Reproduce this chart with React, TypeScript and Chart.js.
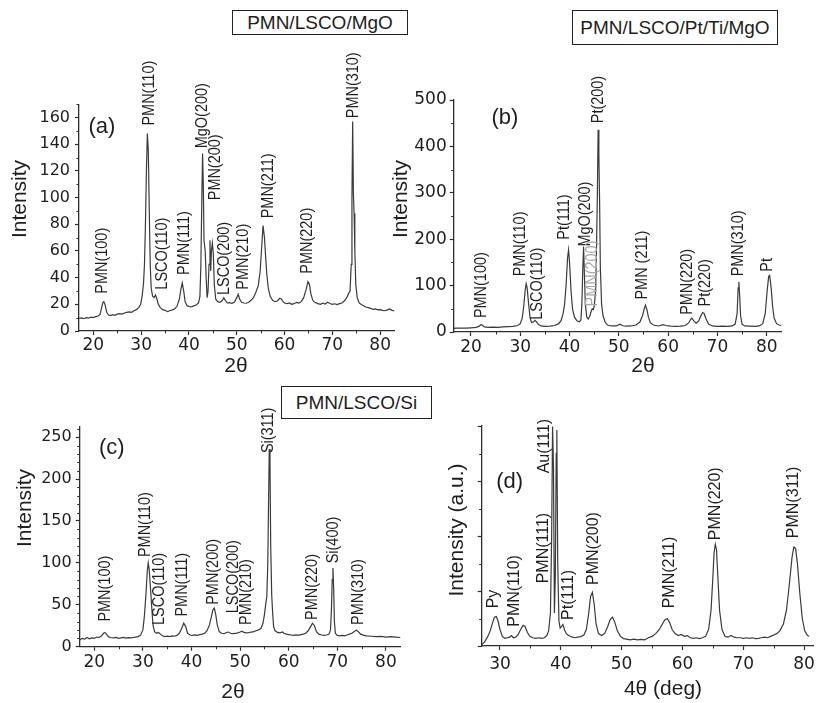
import React, { useEffect, useRef } from 'react';
import { Chart, registerables } from 'chart.js';

Chart.register(...registerables);

const W = 819;
const H = 703;

// ---------- Panel (a) PMN/LSCO/MgO ----------
const aPattern: [number, number][] = [
  [17.0, 9.5], [17.5, 9.8], [18.0, 9.2], [18.5, 10.0], [19.0, 9.6], [19.5, 10.4], [20.0, 10.1], [20.5, 10.8],
  [21.0, 11.2], [21.4, 12.5], [21.7, 17], [22.0, 21.5], [22.2, 22], [22.5, 19], [22.8, 14], [23.2, 12],
  [23.6, 11.5], [24.0, 12.2], [24.5, 11.8], [25.0, 12.6], [25.5, 13.0], [26.0, 12.7], [26.5, 13.5], [27.0, 13.9],
  [27.5, 14.3], [28.0, 14.0], [28.5, 15.2], [29.0, 16.0], [29.5, 17.5], [29.9, 20], [30.2, 26], [30.5, 36],
  [30.7, 50], [30.9, 80], [31.1, 120], [31.3, 148], [31.5, 135], [31.7, 90], [31.9, 50], [32.1, 32],
  [32.4, 26], [32.7, 25], [33.0, 27], [33.3, 24], [33.6, 20], [34.0, 17.5], [34.5, 16], [35.0, 15.5],
  [35.5, 14.5], [36.0, 15.2], [36.5, 15.8], [37.0, 16.5], [37.5, 18.5], [38.0, 24], [38.3, 31], [38.6, 36],
  [38.9, 30], [39.2, 22], [39.6, 19], [40.0, 18.5], [40.5, 18], [41.0, 18.8], [41.5, 19.5], [42.0, 21],
  [42.3, 26], [42.5, 50], [42.7, 100], [42.85, 133], [43.0, 110], [43.15, 68], [43.4, 60], [43.6, 40],
  [43.8, 25], [44.0, 30], [44.2, 50], [44.4, 68], [44.55, 45], [44.7, 60], [44.9, 66], [45.1, 58],
  [45.3, 35], [45.6, 24], [46.0, 22], [46.5, 21.5], [47.0, 23], [47.3, 25], [47.6, 23], [48.0, 21],
  [48.5, 21.2], [49.0, 20.8], [49.5, 21.5], [50.0, 25], [50.3, 27.5], [50.6, 24], [51.0, 21.5], [51.5, 21],
  [52.0, 20.8], [52.5, 21.5], [53.0, 23], [53.5, 25], [54.0, 29], [54.5, 34], [54.9, 45], [55.2, 62],
  [55.5, 79], [55.8, 70], [56.0, 58], [56.3, 42], [56.6, 32], [57.0, 26], [57.5, 23], [58.0, 22],
  [58.5, 22.5], [59.0, 24.5], [59.3, 24], [59.7, 22], [60.0, 21], [60.5, 20.5], [61.0, 21], [61.5, 20],
  [62.0, 20.5], [62.5, 21.5], [63.0, 21], [63.5, 22], [64.0, 25], [64.5, 31], [64.9, 37], [65.2, 35],
  [65.5, 28], [65.9, 23], [66.3, 21.5], [67.0, 20.5], [67.5, 20], [68.0, 20.8], [68.5, 20.2], [69.0, 21.5],
  [69.5, 20.6], [70.0, 20], [70.5, 20.4], [71.0, 19.8], [71.5, 20.5], [72.0, 21], [72.5, 22.5], [73.0, 25],
  [73.4, 28], [73.7, 30], [73.95, 50], [74.1, 100], [74.25, 157], [74.4, 103], [74.55, 88], [74.7, 60],
  [74.9, 35], [75.2, 25], [75.6, 21], [76.0, 20], [76.5, 19], [77.0, 18], [77.5, 17.5], [78.0, 17],
  [78.5, 16.2], [79.0, 16.5], [79.5, 15.8], [80.0, 16], [80.5, 15.5], [81.0, 15.2], [81.5, 15.8], [82.0, 16.5],
  [82.5, 15.5], [83.0, 15],
];
const aPeaks: [string, number, number][] = [
  ['PMN(100)', 21.8, 28], ['PMN(110)', 31.7, 154], ['LSCO(110)', 34.5, 31], ['PMN(111)', 39.0, 42],
  ['MgO(200)', 42.7, 137], ['PMN(200)', 45.5, 98], ['LSCO(200)', 47.4, 27], ['PMN(210)', 51.4, 31],
  ['PMN(211)', 56.5, 84.5], ['PMN(220)', 64.8, 43], ['PMN(310)', 74.3, 159.5],
];
const aXTicks = [20, 30, 40, 50, 60, 70, 80];
const aXMinor = [25, 35, 45, 55, 65, 75];
const aYTicks = [0, 20, 40, 60, 80, 100, 120, 140, 160];
const aYMinor = [10, 30, 50, 70, 90, 110, 130, 150, 170];
const aTag: [string, number, number] = ['(a)', 21.8, 153];

// ---------- Panel (b) PMN/LSCO/Pt/Ti/MgO ----------
const bPattern: [number, number][] = [
  [16.5, 8], [17.0, 8.5], [18, 8.5], [19, 8.2], [20, 9], [21, 10], [21.6, 12], [22.0, 16], [22.3, 15],
  [22.7, 11], [23.5, 10], [24.5, 10.5], [25.5, 10], [26.5, 11], [27.5, 11.5], [28.5, 12], [29.5, 14],
  [30.0, 18], [30.4, 30], [30.7, 55], [31.0, 90], [31.2, 104], [31.4, 95], [31.7, 60], [32.0, 30],
  [32.3, 20], [32.7, 22], [33.0, 25], [33.3, 22], [33.7, 16], [34.2, 13], [35, 12], [36, 12.5], [37, 14],
  [37.8, 18], [38.3, 25], [38.7, 40], [39.0, 60], [39.3, 100], [39.6, 160], [39.8, 177], [40.0, 150],
  [40.3, 90], [40.6, 50], [41.0, 32], [41.5, 24], [42.0, 22], [42.3, 26], [42.5, 60], [42.7, 140],
  [42.85, 184], [43.0, 130], [43.2, 60], [43.5, 32], [43.8, 28], [44.1, 34], [44.4, 45], [44.6, 50],
  [44.8, 48], [45.0, 55], [45.3, 90], [45.5, 200], [45.65, 300], [45.8, 436], [45.95, 380], [46.1, 280],
  [46.25, 140], [46.5, 60], [46.8, 35], [47.2, 22], [47.7, 15], [48.5, 13], [49.5, 13], [50.2, 17],
  [50.8, 13.5], [51.5, 12.5], [52.5, 13], [53.5, 15], [54.3, 22], [54.8, 35], [55.2, 52], [55.4, 58],
  [55.7, 48], [56.0, 32], [56.4, 20], [57.0, 15], [58.0, 13], [59.0, 16], [59.5, 14], [60.5, 12.5],
  [61.5, 12], [62.5, 12.5], [63.5, 14], [64.2, 20], [64.6, 28], [64.8, 30], [65.2, 24], [65.7, 19],
  [66.2, 24], [66.6, 34], [67.0, 42], [67.3, 40], [67.7, 28], [68.2, 17], [69, 13], [70, 12], [71, 12.5],
  [72, 12], [73, 13], [73.6, 17], [74.0, 40], [74.2, 95], [74.35, 108], [74.5, 80], [74.7, 35], [75.0, 17],
  [75.5, 13], [76.5, 12.5], [77.5, 12], [78.5, 13], [79.2, 18], [79.7, 40], [80.1, 90], [80.4, 120],
  [80.6, 122], [80.9, 95], [81.2, 55], [81.5, 30], [82.0, 18], [82.5, 15], [83.0, 14],
];
const bPeaks: [string, number, number][] = [
  ['PMN(100)', 22.2, 30], ['PMN(110)', 30.1, 120], ['LSCO(110)', 33.5, 26.5], ['Pt(111)', 38.9, 199],
  ['MgO(200)', 43.1, 184], ['PMN(200)', 44.7, 55], ['Pt(200)', 45.8, 450], ['PMN (211)', 54.8, 70],
  ['PMN(220)', 63.9, 37], ['Pt(220)', 67.5, 55], ['PMN(310)', 74.2, 120], ['Pt', 80.1, 130],
];
const bFadedLabels = ['PMN(200)'];
const bXTicks = [20, 30, 40, 50, 60, 70, 80];
const bXMinor = [25, 35, 45, 55, 65, 75];
const bYTicks = [0, 100, 200, 300, 400, 500];
const bYMinor = [50, 150, 250, 350, 450];
const bTag: [string, number, number] = ['(b)', 26.9, 461];

// ---------- Panel (c) PMN/LSCO/Si ----------
const cPattern: [number, number][] = [
  [17.0, 8], [17.5, 10], [18.0, 9], [18.5, 11], [19.0, 9.5], [19.5, 10.5], [20.0, 10], [20.5, 11.5],
  [21.0, 11], [21.5, 13], [21.9, 16], [22.2, 17], [22.5, 15], [22.9, 12], [23.3, 11], [24, 10.5],
  [24.5, 11], [25, 10], [25.5, 10.5], [26, 11], [26.5, 10.2], [27, 10.8], [27.5, 10.5], [28, 11],
  [28.5, 11.5], [29, 12], [29.5, 13.5], [30.0, 20], [30.3, 36], [30.6, 60], [30.9, 90], [31.1, 100],
  [31.3, 92], [31.5, 75], [31.7, 58], [31.9, 40], [32.1, 25], [32.4, 18], [32.8, 16], [33.2, 17],
  [33.6, 15], [34.0, 13], [34.5, 12], [35, 12.5], [35.5, 12], [36, 12.8], [36.5, 12.5], [37, 13.5],
  [37.5, 16], [38.0, 22], [38.4, 28], [38.8, 24], [39.2, 16], [39.7, 14], [40.2, 13.5], [40.7, 14],
  [41.2, 13.5], [41.7, 14.5], [42.2, 15], [42.7, 16], [43.2, 19], [43.7, 26], [44.1, 36], [44.4, 44],
  [44.7, 46], [45.0, 38], [45.3, 26], [45.7, 18], [46.2, 16], [46.7, 15.5], [47.2, 17], [47.6, 17.5],
  [48.0, 16], [48.5, 15.5], [49.0, 15.8], [49.5, 16.5], [50.0, 17.5], [50.4, 18.5], [50.8, 17],
  [51.2, 16.5], [51.8, 16.8], [52.3, 17.5], [52.8, 18], [53.3, 19], [53.8, 20], [54.3, 22], [54.7, 28],
  [55.0, 38], [55.3, 52], [55.5, 60], [55.7, 100], [55.85, 170], [56.0, 236], [56.15, 218], [56.3, 120],
  [56.5, 62], [56.7, 40], [56.9, 24], [57.2, 19], [57.7, 17], [58.2, 16.5], [58.7, 17.5], [59.0, 16],
  [59.5, 15], [60, 14.5], [60.5, 14], [61, 13.5], [61.5, 14], [62, 13.5], [62.5, 14.5], [63, 15],
  [63.5, 16], [64.0, 19], [64.5, 24], [64.9, 28], [65.3, 25], [65.7, 18], [66.2, 15], [66.8, 14],
  [67.3, 13.5], [67.8, 14], [68.3, 15], [68.6, 20], [68.8, 45], [68.95, 80], [69.1, 94], [69.25, 70],
  [69.4, 30], [69.6, 16], [70.0, 13.5], [70.5, 13], [71, 13.5], [71.5, 13], [72, 14], [72.5, 15],
  [73, 16], [73.5, 18], [73.9, 20], [74.3, 18], [74.8, 15], [75.5, 13.5], [76, 13], [77, 12.5],
  [78, 12], [79, 12.2], [80, 11.5], [81, 12], [82, 11.5], [83, 11],
];
const cPeaks: [string, number, number][] = [
  ['PMN(100)', 22.2, 30], ['PMN(110)', 30.4, 107], ['LSCO(110)', 33.4, 26], ['PMN(111)', 38.2, 36],
  ['PMN(200)', 44.5, 50], ['LSCO(200)', 48.6, 40], ['PMN(210)', 51.2, 26], ['Si(311)', 55.8, 231],
  ['PMN(220)', 64.9, 32], ['Si(400)', 69.2, 99.5], ['PMN(310)', 74.3, 26],
];
const cXTicks = [20, 30, 40, 50, 60, 70, 80];
const cXMinor = [25, 35, 45, 55, 65, 75];
const cYTicks = [0, 50, 100, 150, 200, 250];
const cYMinor = [10, 20, 30, 40, 60, 70, 80, 90, 110, 120, 130, 140, 160, 170, 180, 190, 210, 220, 230, 240, 260];
const cTag: [string, number, number] = ['(c)', 23.6, 236.7];

// ---------- Panel (d) ----------
const dPattern: [number, number][] = [
  [27.0, 0.05], [27.5, 0.15], [28.0, 0.35], [28.4, 0.55], [28.8, 0.85], [29.1, 1.05], [29.4, 1.07],
  [29.7, 0.9], [30.0, 0.6], [30.4, 0.35], [30.8, 0.28], [31.2, 0.3], [31.6, 0.32], [31.9, 0.38],
  [32.2, 0.3], [32.6, 0.32], [33.0, 0.42], [33.4, 0.6], [33.8, 0.75], [34.1, 0.72], [34.5, 0.5],
  [34.9, 0.35], [35.4, 0.3], [35.9, 0.28], [36.4, 0.3], [36.9, 0.28], [37.3, 0.3], [37.7, 0.38],
  [38.0, 0.55], [38.3, 1.2], [38.5, 4.0], [38.65, 7.98], [38.8, 6.5], [38.95, 1.2], [39.1, 2.5],
  [39.25, 7.0], [39.35, 7.85], [39.5, 3.0], [39.7, 0.9], [39.9, 0.65], [40.1, 0.7], [40.35, 0.78],
  [40.6, 0.6], [40.9, 0.45], [41.3, 0.38], [41.8, 0.33], [42.3, 0.3], [42.8, 0.32], [43.3, 0.34],
  [43.8, 0.4], [44.2, 0.6], [44.6, 1.2], [44.9, 1.8], [45.2, 1.95], [45.5, 1.5], [45.8, 0.8],
  [46.2, 0.45], [46.7, 0.38], [47.2, 0.45], [47.7, 0.7], [48.1, 0.95], [48.5, 1.05], [48.9, 0.85],
  [49.3, 0.55], [49.8, 0.35], [50.3, 0.27], [50.8, 0.25], [51.4, 0.22], [52, 0.25], [52.6, 0.22],
  [53.2, 0.24], [53.8, 0.22], [54.4, 0.3], [55, 0.35], [55.6, 0.45], [56.2, 0.6], [56.7, 0.8],
  [57.1, 0.95], [57.5, 1.0], [57.9, 0.85], [58.3, 0.6], [58.8, 0.45], [59.3, 0.38], [59.8, 0.42],
  [60.3, 0.35], [60.8, 0.38], [61.3, 0.3], [61.8, 0.28], [62.3, 0.3], [62.8, 0.27], [63.3, 0.3],
  [63.8, 0.35], [64.3, 0.6], [64.7, 1.3], [65.0, 2.5], [65.2, 3.4], [65.4, 3.7], [65.6, 3.5],
  [65.8, 2.6], [66.1, 1.3], [66.5, 0.6], [67.0, 0.35], [67.5, 0.32], [68.0, 0.38], [68.5, 0.32],
  [69, 0.3], [69.5, 0.3], [70, 0.28], [70.5, 0.3], [71, 0.28], [71.5, 0.3], [72, 0.27], [72.5, 0.28],
  [73, 0.3], [73.5, 0.32], [74, 0.3], [74.5, 0.35], [75, 0.4], [75.5, 0.45], [76, 0.55], [76.6, 0.8],
  [77.1, 1.3], [77.6, 2.3], [78.0, 3.2], [78.3, 3.6], [78.6, 3.55], [78.9, 3.0], [79.3, 1.9],
  [79.7, 1.0], [80.1, 0.55], [80.5, 0.4], [80.8, 0.35],
];
const dPeaks: [string, number, number][] = [
  ['Py', 28.9, 1.37], ['PMN(110)', 32.3, 0.7], ['PMN(111)', 37.1, 2.28], ['Au(111)', 37.3, 6.28],
  ['Pt(111)', 41.3, 0.95], ['PMN(200)', 45.3, 2.22], ['PMN(211)', 57.9, 1.37], ['PMN(220)', 65.4, 3.85],
  ['PMN(311)', 78.3, 3.92],
];
const dXTicks = [30, 40, 50, 60, 70, 80];
const dXMinor = [35, 45, 55, 65, 75];
const dYTicks = [0, 2, 4, 6, 8];
const dYMinor = [1, 3, 5, 7];
const dTag: [string, number, number] = ['(d)', 31.6, 5.97];

// ---------- layout / style ----------
const AXIS = '#2e2e2e';
const LINE = '#3a3a3a';
const TEXT = '#1e1e1e';
const SANS = '"Liberation Sans", Arial, Helvetica, sans-serif';
const TICKFONT = '"DejaVu Sans", "Liberation Sans", sans-serif';
const YW = 60;
const XH = 30;

type Panel = {
  pattern: [number, number][];
  peaks: [string, number, number][];
  faded?: string[];
  xTicks: number[]; xMinor: number[]; yTicks: number[]; yMinor: number[];
  tag: [string, number, number];
  area: { left: number; top: number; right: number; bottom: number };
  xMin: number; xMax: number; yMin: number; yMax: number;
  yLabels: boolean;
  xFont: number; yFont: number; xPad: number; yPad: number;
  labelScale: number;
  yTitle: string; yTitlePos: [number, number];
  xTitle: string; xTitlePos: [number, number];
};

const panels: Panel[] = [
  {
    pattern: aPattern, peaks: aPeaks, xTicks: aXTicks, xMinor: aXMinor, yTicks: aYTicks, yMinor: aYMinor, tag: aTag,
    area: { left: 79, top: 104.2, right: 394.5, bottom: 331 },
    xMin: 17, xMax: 83, yMin: 0, yMax: 170, yLabels: true,
    xFont: 17, yFont: 16, xPad: 0, yPad: 5, labelScale: 0.85,
    yTitle: 'Intensity', yTitlePos: [20, 199], xTitle: '2θ', xTitlePos: [236, 366],
  },
  {
    pattern: bPattern, peaks: bPeaks, faded: bFadedLabels, xTicks: bXTicks, xMinor: bXMinor, yTicks: bYTicks, yMinor: bYMinor, tag: bTag,
    area: { left: 453.7, top: 100, right: 781.5, bottom: 332 },
    xMin: 16.5, xMax: 83, yMin: 0, yMax: 500, yLabels: true,
    xFont: 17, yFont: 17, xPad: 1, yPad: 3, labelScale: 0.85,
    yTitle: 'Intensity', yTitlePos: [401, 199], xTitle: '2θ', xTitlePos: [643, 366],
  },
  {
    pattern: cPattern, peaks: cPeaks, xTicks: cXTicks, xMinor: cXMinor, yTicks: cYTicks, yMinor: cYMinor, tag: cTag,
    area: { left: 79.7, top: 426.3, right: 400.5, bottom: 646.7 },
    xMin: 17, xMax: 83, yMin: 0, yMax: 263, yLabels: true,
    xFont: 17, yFont: 16, xPad: 2, yPad: 4, labelScale: 0.85,
    yTitle: 'Intensity', yTitlePos: [25, 508], xTitle: '2θ', xTitlePos: [233, 692],
  },
  {
    pattern: dPattern, peaks: dPeaks, xTicks: dXTicks, xMinor: dXMinor, yTicks: dYTicks, yMinor: dYMinor, tag: dTag,
    area: { left: 481.7, top: 426, right: 816.5, bottom: 646 },
    xMin: 27, xMax: 81.5, yMin: 0, yMax: 8, yLabels: false,
    xFont: 17, yFont: 16, xPad: 4, yPad: 4, labelScale: 0.94,
    yTitle: 'Intensity (a.u.)', yTitlePos: [457, 530], xTitle: '4θ (deg)', xTitlePos: [663, 689],
  },
];

const boxes = [
  { text: 'PMN/LSCO/MgO', left: 232, top: 10, width: 176, height: 25 },
  { text: 'PMN/LSCO/Pt/Ti/MgO', left: 572, top: 10, width: 206, height: 35 },
  { text: 'PMN/LSCO/Si', left: 281, top: 386, width: 151, height: 33 },
];

function makeDeco(p: Panel) {
  return {
    id: 'deco',
    afterDraw(chart: any) {
      const ctx: CanvasRenderingContext2D = chart.ctx;
      const xs = chart.scales.x;
      const ys = chart.scales.y;
      const ca = chart.chartArea;
      ctx.save();
      // minor ticks
      ctx.strokeStyle = AXIS;
      ctx.lineWidth = 1;
      ctx.beginPath();
      p.xMinor.forEach((v) => {
        const px = Math.round(xs.getPixelForValue(v)) + 0.5;
        ctx.moveTo(px, ca.bottom);
        ctx.lineTo(px, ca.bottom + 2.5);
      });
      p.yMinor.forEach((v) => {
        const py = Math.round(ys.getPixelForValue(v)) + 0.5;
        ctx.moveTo(ca.left - 2.5, py);
        ctx.lineTo(ca.left, py);
      });
      ctx.stroke();
      // peak labels (rotated)
      ctx.font = `17px ${SANS}`;
      ctx.textAlign = 'left';
      ctx.textBaseline = 'middle';
      p.peaks.forEach(([t, x, y]) => {
        const px = xs.getPixelForValue(x);
        const py = ys.getPixelForValue(y);
        ctx.save();
        ctx.translate(px, py);
        ctx.rotate(-Math.PI / 2);
        ctx.scale(p.labelScale, 1);
        ctx.fillStyle = p.faded && p.faded.includes(t) ? '#a8a8a8' : TEXT;
        ctx.fillText(t, 0, 0);
        ctx.restore();
      });
      // panel tag
      ctx.fillStyle = TEXT;
      ctx.font = `22px ${SANS}`;
      ctx.textAlign = 'center';
      ctx.fillText(p.tag[0], xs.getPixelForValue(p.tag[1]), ys.getPixelForValue(p.tag[2]));
      // axis titles
      ctx.font = `21px ${SANS}`;
      ctx.fillText(p.xTitle, p.xTitlePos[0], p.xTitlePos[1]);
      ctx.save();
      ctx.translate(p.yTitlePos[0], p.yTitlePos[1]);
      ctx.rotate(-Math.PI / 2);
      ctx.fillText(p.yTitle, 0, 0);
      ctx.restore();
      ctx.restore();
    },
  };
}

function PanelChart({ p }: { p: Panel }) {
  const ref = useRef<HTMLCanvasElement>(null);
  useEffect(() => {
    if (!ref.current) return;
    const chart = new Chart(ref.current, {
      type: 'line',
      data: {
        datasets: [
          {
            data: p.pattern.map(([x, y]) => ({ x, y })),
            borderColor: LINE,
            borderWidth: 1.2,
            pointRadius: 0,
            tension: 0,
            fill: false,
          },
        ],
      },
      options: {
        responsive: false,
        animation: false,
        events: [],
        layout: {
          padding: {
            left: p.area.left - YW,
            top: p.area.top,
            right: W - p.area.right,
            bottom: H - p.area.bottom - XH,
          },
        },
        plugins: { legend: { display: false }, tooltip: { enabled: false } },
        scales: {
          x: {
            type: 'linear',
            min: p.xMin,
            max: p.xMax,
            afterFit: (s: any) => { s.height = XH; },
            afterBuildTicks: (s: any) => { s.ticks = p.xTicks.map((v) => ({ value: v })); },
            ticks: {
              autoSkip: false, maxRotation: 0, padding: p.xPad, color: TEXT,
              font: { family: TICKFONT, size: p.xFont },
              callback: (v: any) => String(v),
            },
            grid: { drawOnChartArea: false, drawTicks: true, tickLength: 4, tickWidth: 1.2, tickColor: AXIS },
            border: { display: true, color: AXIS, width: 1.3 },
          },
          y: {
            type: 'linear',
            min: p.yMin,
            max: p.yMax,
            afterFit: (s: any) => { s.width = YW; },
            afterBuildTicks: (s: any) => { s.ticks = p.yTicks.map((v) => ({ value: v })); },
            ticks: {
              autoSkip: false, padding: p.yPad, color: TEXT,
              font: { family: TICKFONT, size: p.yFont },
              callback: (v: any) => (p.yLabels ? String(v) : ''),
            },
            grid: { drawOnChartArea: false, drawTicks: true, tickLength: 4, tickWidth: 1.2, tickColor: AXIS },
            border: { display: true, color: AXIS, width: 1.3 },
          },
        },
      },
      plugins: [makeDeco(p)],
    } as any);
    return () => chart.destroy();
  }, [p]);
  return (
    <canvas
      ref={ref}
      width={W}
      height={H}
      style={{ position: 'absolute', left: 0, top: 0, width: W, height: H }}
    />
  );
}

export default function App() {
  return (
    <div style={{ position: 'absolute', left: 0, top: 0, width: W, height: H, background: '#fff', overflow: 'hidden' }}>
      {panels.map((p, i) => (
        <PanelChart key={i} p={p} />
      ))}
      {boxes.map((b, i) => (
        <div
          key={i}
          style={{
            position: 'absolute', left: b.left, top: b.top, width: b.width, height: b.height,
            boxSizing: 'border-box', border: '1.5px solid #222', background: '#fff',
            display: 'flex', alignItems: 'center', justifyContent: 'center',
            fontFamily: SANS, fontSize: 19, color: TEXT, whiteSpace: 'nowrap',
          }}
        >
          {b.text}
        </div>
      ))}
    </div>
  );
}
